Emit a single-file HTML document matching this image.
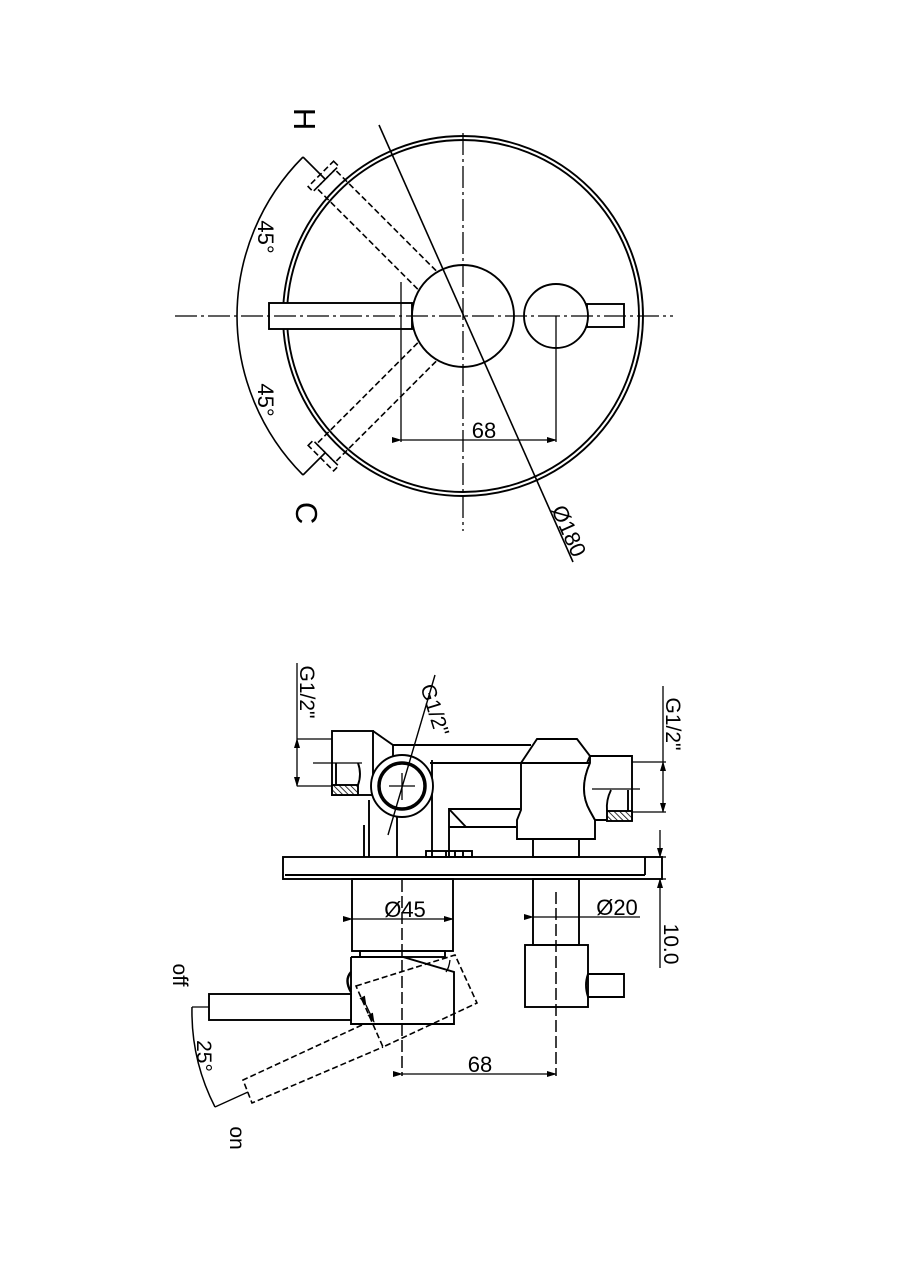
<!DOCTYPE html>
<html><head><meta charset="utf-8"><style>
html,body{margin:0;padding:0;background:#fff}
svg{display:block}
text{font-family:"Liberation Sans",sans-serif;fill:#000}
</style></head><body>
<svg width="905" height="1280" viewBox="0 0 905 1280" xmlns="http://www.w3.org/2000/svg">
<defs>
<pattern id="h" width="4" height="4" patternUnits="userSpaceOnUse" patternTransform="rotate(-45)">
<rect width="4" height="4" fill="#fff"/><line x1="0" y1="0" x2="0" y2="4" stroke="#000" stroke-width="1.6"/></pattern>
<marker id="a" markerWidth="10" markerHeight="6" refX="9" refY="3" orient="auto" markerUnits="userSpaceOnUse"><path d="M0,0 L10,3 L0,6z" fill="#000"/></marker>
</defs>
<g fill="none" stroke="#000" stroke-width="1.9">
<!-- TOP VIEW -->
<circle cx="463" cy="316" r="180"/>
<circle cx="463" cy="316" r="176"/>
<rect x="269" y="303" width="143" height="26" fill="#fff"/>
<rect x="587" y="304" width="37" height="23" fill="#fff"/>
<circle cx="463" cy="316" r="51" fill="#fff"/>
<circle cx="556" cy="316" r="32" fill="#fff"/>
<line x1="175" y1="316" x2="673" y2="316" stroke-width="1.3" stroke-dasharray="22,4,3,4"/>
<line x1="463" y1="133" x2="463" y2="531" stroke-width="1.3" stroke-dasharray="22,4,3,4"/>
<line x1="556" y1="316" x2="556" y2="442" stroke-width="1.3"/>
<line x1="401" y1="282" x2="401" y2="442" stroke-width="1.3"/>
<line x1="401" y1="440" x2="556" y2="440" stroke-width="1.3" marker-start="url(#a)" marker-end="url(#a)"/>
<line x1="379" y1="125" x2="573" y2="562" stroke-width="1.6"/>
<g stroke-dasharray="6,3" stroke-width="1.6">
<g transform="rotate(45 463 316)"><polyline points="412,303 269,303 269,329 412,329"/><rect x="262" y="298" width="7" height="36"/></g>
<g transform="rotate(-45 463 316)"><polyline points="412,303 269,303 269,329 412,329"/><rect x="262" y="298" width="7" height="36"/></g>
</g>
<path d="M303,157 A226,226 0 0 0 237,316 A226,226 0 0 0 303,475" stroke-width="1.6"/>
<line x1="303" y1="157" x2="325" y2="179" stroke-width="1.6"/>
<line x1="303" y1="475" x2="325" y2="453" stroke-width="1.6"/>
<!-- SIDE VIEW -->
<rect x="283" y="857" width="379" height="22"/>
<line x1="645" y1="857" x2="645" y2="875"/>
<line x1="285" y1="875" x2="645" y2="875"/>
<line x1="662" y1="857" x2="666" y2="857" stroke-width="1.3"/>
<line x1="662" y1="879" x2="666" y2="879" stroke-width="1.3"/>
<line x1="660" y1="830" x2="660" y2="857" stroke-width="1.3" marker-end="url(#a)"/>
<line x1="660" y1="968" x2="660" y2="879" stroke-width="1.3" marker-end="url(#a)"/>
<rect x="426" y="851" width="46" height="6"/>
<line x1="446" y1="851" x2="446" y2="857"/><line x1="455" y1="851" x2="455" y2="857"/><line x1="463" y1="851" x2="463" y2="857"/>
<rect x="332" y="731" width="41" height="64"/>
<rect x="332" y="785" width="26" height="10" fill="url(#h)"/>
<path d="M358,763 Q362,774 358,785"/>
<line x1="336" y1="763" x2="336" y2="785"/>
<line x1="297" y1="739" x2="332" y2="739" stroke-width="1.3"/>
<line x1="297" y1="786" x2="332" y2="786" stroke-width="1.3"/>
<line x1="313" y1="763" x2="362" y2="763" stroke-width="1.3"/>
<line x1="297" y1="663" x2="297" y2="739" stroke-width="1.3"/>
<line x1="297" y1="763" x2="297" y2="739" stroke-width="1.3" marker-end="url(#a)"/>
<line x1="297" y1="763" x2="297" y2="786" stroke-width="1.3" marker-end="url(#a)"/>
<polyline points="373,731 393,745 531,745"/>
<line x1="430" y1="763" x2="521" y2="763"/>
<line x1="393" y1="745" x2="393" y2="760"/>
<line x1="364" y1="825" x2="364" y2="857"/><line x1="369" y1="800" x2="369" y2="857"/>
<line x1="397" y1="815" x2="397" y2="857"/>
<line x1="432" y1="760" x2="432" y2="857"/>
<circle cx="402" cy="786" r="31" fill="#fff"/>
<circle cx="402" cy="786" r="23" stroke-width="3.5"/>
<line x1="389" y1="786" x2="415" y2="786" stroke-width="1.3"/>
<line x1="402" y1="773" x2="402" y2="800" stroke-width="1.3"/>
<line x1="435" y1="675" x2="388" y2="835" stroke-width="1.4"/>
<polyline points="449,857 449,809 520,809"/>
<line x1="449" y1="809" x2="466" y2="827"/>
<line x1="449" y1="827" x2="516" y2="827"/>
<polygon points="537,739 577,739 590,756 587,763 521,763 527,754" fill="#fff"/>
<path d="M521,763 L590,763 Q578,790 590,811 L595,820 L595,839 L517,839 L517,820 L521,810 Z" fill="#fff"/>
<rect x="533" y="839" width="46" height="18"/>
<path d="M590,756 L632,756 L632,820 L595,820 L590,811 Q578,790 590,763 Z" fill="#fff"/>
<rect x="607" y="811" width="25" height="10" fill="url(#h)"/>
<path d="M611,790 Q606,800 607,811"/>
<line x1="628" y1="790" x2="628" y2="811"/>
<line x1="592" y1="789" x2="640" y2="789" stroke-width="1.3"/>
<line x1="632" y1="762" x2="666" y2="762" stroke-width="1.3"/>
<line x1="632" y1="812" x2="666" y2="812" stroke-width="1.3"/>
<line x1="663" y1="686" x2="663" y2="762" stroke-width="1.3"/>
<line x1="663" y1="787" x2="663" y2="762" stroke-width="1.3" marker-end="url(#a)"/>
<line x1="663" y1="787" x2="663" y2="812" stroke-width="1.3" marker-end="url(#a)"/>
<rect x="352" y="879" width="101" height="72"/>
<line x1="352" y1="919" x2="453" y2="919" stroke-width="1.3" marker-start="url(#a)" marker-end="url(#a)"/>
<rect x="360" y="951" width="85" height="6"/>
<polyline points="351,957 403,957 454,972 454,1024 351,1024 351,957"/>
<path d="M450,960 Q449,968 446,972" stroke-width="1.3"/>
<path d="M351,972 Q344,980 351,992" stroke-width="2.4"/>
<rect x="209" y="994" width="142" height="26" fill="#fff"/>
<line x1="402" y1="880" x2="402" y2="1076" stroke-width="1.5" stroke-dasharray="12,4"/>
<line x1="402" y1="1074" x2="556" y2="1074" stroke-width="1.3" marker-start="url(#a)" marker-end="url(#a)"/>
<g stroke-dasharray="6,3" stroke-width="1.6">
<polygon points="356,986 455,955 477,1003 383,1047"/>
<polyline points="362,1025 243,1080 252,1103 383,1047"/>
</g>
<line x1="366" y1="1005" x2="374" y2="1022" stroke-width="1.3" marker-start="url(#a)" marker-end="url(#a)"/>
<line x1="192" y1="1007" x2="209" y2="1007" stroke-width="1.3"/>
<line x1="215" y1="1107" x2="248" y2="1092" stroke-width="1.3"/>
<path d="M192,1007 A209,209 0 0 0 215,1107" stroke-width="1.5"/>
<rect x="533" y="879" width="46" height="66"/>
<line x1="533" y1="917" x2="640" y2="917" stroke-width="1.3" marker-start="url(#a)"/>
<rect x="525" y="945" width="63" height="62"/>
<path d="M588,974 L624,974 L624,997 L588,997 Q584,985 588,974 Z"/>
<line x1="556" y1="892" x2="556" y2="1076" stroke-width="1.5" stroke-dasharray="12,4"/>
</g>
<g font-size="22">
<text transform="translate(294,119) rotate(90)" text-anchor="middle" font-size="31">H</text>
<text transform="translate(296,513) rotate(90)" text-anchor="middle" font-size="31">C</text>
<text transform="translate(258,237) rotate(90)" text-anchor="middle" font-size="22">45°</text>
<text transform="translate(258,400) rotate(90)" text-anchor="middle" font-size="22">45°</text>
<text x="484" y="438" text-anchor="middle" font-size="22">68</text>
<text transform="translate(562,534) rotate(66)" text-anchor="middle" font-size="22">Ø180</text>
<text transform="translate(300,692) rotate(90)" text-anchor="middle" font-size="21">G1/2"</text>
<text transform="translate(428,712) rotate(73)" text-anchor="middle" font-size="21">G1/2"</text>
<text transform="translate(666,724) rotate(90)" text-anchor="middle" font-size="21">G1/2"</text>
<text x="405" y="917" text-anchor="middle" font-size="22">Ø45</text>
<text x="617" y="915" text-anchor="middle" font-size="22">Ø20</text>
<text transform="translate(664,944) rotate(90)" text-anchor="middle" font-size="21">10.0</text>
<text x="480" y="1072" text-anchor="middle" font-size="22">68</text>
<text transform="translate(173,975) rotate(90)" text-anchor="middle" font-size="21">off</text>
<text transform="translate(197,1056) rotate(90)" text-anchor="middle" font-size="21">25°</text>
<text transform="translate(230,1138) rotate(90)" text-anchor="middle" font-size="21">on</text>
</g>
</svg>
</body></html>
